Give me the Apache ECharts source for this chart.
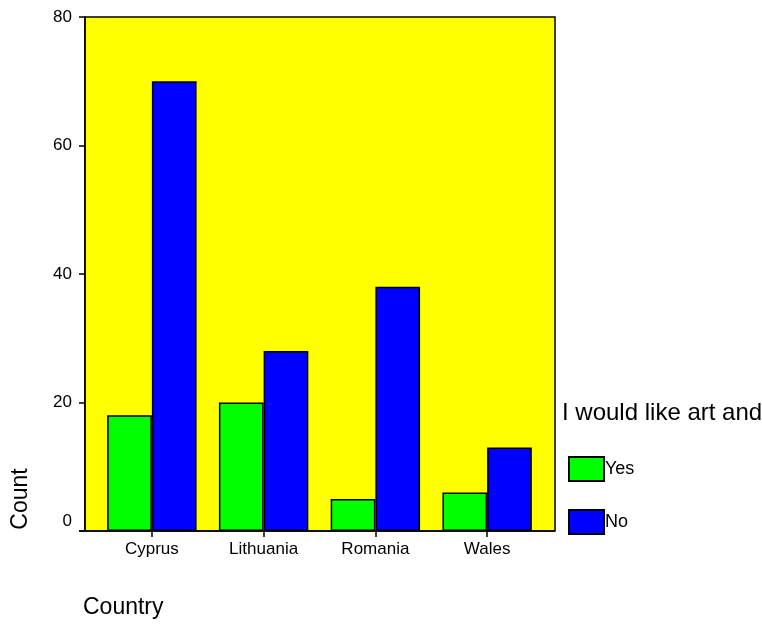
<!DOCTYPE html>
<html>
<head>
<meta charset="utf-8">
<script src="https://cdn.jsdelivr.net/npm/echarts@6/dist/echarts.min.js"></script>
<style>
  html, body { margin: 0; padding: 0; background: #fff; }
  #chart { width: 762px; height: 624px; }
</style>
</head>
<body>
<div id="chart"></div>
<script>
// data
const countries = ['Cyprus', 'Lithuania', 'Romania', 'Wales'];
const yesCounts = [18, 20, 5, 6];
const noCounts = [70, 28, 38, 13];
const yTicks = [0, 20, 40, 60, 80];

const chart = echarts.init(document.getElementById('chart'));
const font = 'Arial, "Liberation Sans", sans-serif';

let option = {
    animation: false,
    backgroundColor: '#ffffff',
    title: {
        text: 'I would like art and',
        left: 562,
        top: 401,
        padding: 0,
        textStyle: { fontFamily: font, fontSize: 24, fontWeight: 'normal', color: '#000' }
    },
    legend: {
        orient: 'vertical',
        left: 568,
        top: 456,
        padding: 0,
        itemWidth: 35,
        itemHeight: 24,
        itemGap: 27,
        icon: 'rect',
        textStyle: { fontFamily: font, fontSize: 18, color: '#000', padding: [0, 0, 0, -4] },
        data: ['Yes', 'No']
    },
    grid: {
        left: 96,
        right: 219,
        top: 17,
        bottom: 93,
        containLabel: false
    },
    xAxis: {
        type: 'category',
        data: countries,
        axisLine: { show: false },
        axisTick: { show: true, alignWithLabel: true, length: 6, lineStyle: { color: '#000', width: 1.5 } },
        axisLabel: { fontFamily: font, fontSize: 17, color: '#000', margin: 10 }
    },
    yAxis: {
        type: 'value',
        min: yTicks[0],
        max: yTicks[yTicks.length - 1],
        interval: 20,
        offset: 11,
        splitLine: { show: false },
        axisLine: { show: true, lineStyle: { color: '#000', width: 1.5 } },
        axisTick: { show: true, length: 6, lineStyle: { color: '#000', width: 1.5 } },
        axisLabel: {
            fontFamily: font, fontSize: 17, color: '#000', margin: 13,
            formatter: function (v) {
                return v === 0 ? '{z|0}' : String(v)
            },
            rich: { z: { fontFamily: font, fontSize: 17, color: '#000', padding: [0, 0, 20, 0] } }
        }
    },
    graphic: [
        // yellow plot backdrop and frame
        { type: 'rect', z: -10, shape: { x: 85, y: 17, width: 470, height: 514 }, style: { fill: '#ffff00' } },
        { type: 'rect', z: 100, shape: { x: 85, y: 17, width: 470, height: 514 }, style: { fill: null, stroke: '#000', lineWidth: 1.5 } },
        { type: 'line', z: 100, shape: { x1: 79, y1: 531, x2: 555, y2: 531 }, style: { stroke: '#000', lineWidth: 1.5 } },
        {
            type: 'text', x: 21, y: 499, rotation: Math.PI / 2,
            style: { text: 'Count', fontFamily: font, fontSize: 23, fill: '#000', align: 'center', verticalAlign: 'middle' }
        },
        {
            type: 'text', x: 83, y: 608,
            style: { text: 'Country', fontFamily: font, fontSize: 23, fill: '#000', align: 'left', verticalAlign: 'middle' }
        }
    ],
    series: [
        {
            name: 'Yes',
            type: 'bar',
            data: yesCounts,
            barGap: '0%',
            barCategoryGap: '20%',
            itemStyle: { color: '#00ff00', borderColor: '#000', borderWidth: 1.5 }
        },
        {
            name: 'No',
            type: 'bar',
            data: noCounts,
            itemStyle: { color: '#0000ff', borderColor: '#000', borderWidth: 1.5 }
        }
    ]
};

chart.setOption(option);
</script>
</body>
</html>
